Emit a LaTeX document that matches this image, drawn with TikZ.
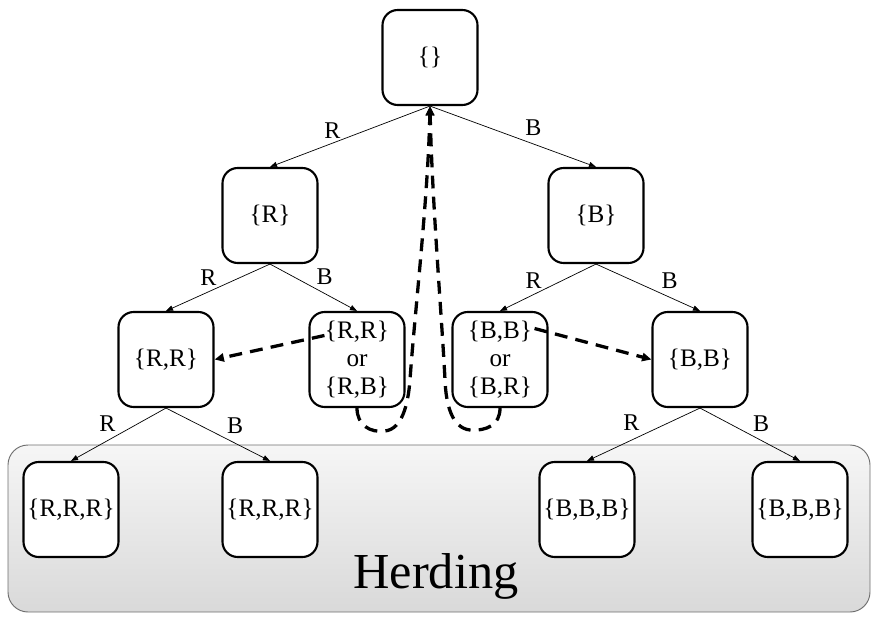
\documentclass[tikz,border=0pt]{standalone}
\usepackage{fontspec}
\setmainfont{Liberation Serif}
\usetikzlibrary{arrows.meta,positioning,calc}
\usepackage{xcolor}
\definecolor{Frame}{HTML}{6E6E6E}
\definecolor{PanelTop}{HTML}{F6F6F6}
\definecolor{PanelBot}{HTML}{D9D9D9}
\tikzset{
 setnode/.style={draw, line width=1.8pt, rounded corners=13pt, fill=white, minimum width=2.85cm, minimum height=2.85cm, align=center, inner sep=2pt, font=\fontsize{21.5}{24}\selectfont},
 edge/.style={-{Triangle[length=6pt,width=4.5pt]}, line width=0.6pt},
 jump/.style={-{Triangle[length=8pt,width=7pt]}, line width=2.8pt, dash pattern=on 11pt off 7pt},
 lbl/.style={font=\fontsize{20.5}{22}\selectfont, inner sep=1pt}
}
\begin{document}
\begin{tikzpicture}[x=0.03cm,y=-0.03cm]
\useasboundingbox (0,0) rectangle (881,624);
% herding panel
\draw[draw=Frame, line width=0.8pt, rounded corners=0.6cm, top color=PanelTop, bottom color=PanelBot] (8,445) rectangle (870,612);
\node[font=\fontsize{43}{50}\selectfont, anchor=base] (herd) at (436,588) {Herding};
% states
\node[setnode] (root) at (430,57.5) {\{\}};
\node[setnode] (r) at (270,215.5) {\{R\}};
\node[setnode] (b) at (596,215.5) {\{B\}};
\node[setnode] (rr) at (166,359.5) {\{R,R\}};
\node[setnode] (mid1) at (357,359.5) {\{R,R\}\\or\\\{R,B\}};
\node[setnode] (mid2) at (500,359.5) {\{B,B\}\\or\\\{B,R\}};
\node[setnode] (bb) at (700,359.5) {\{B,B\}};
\node[setnode] (rrr1) at (71,509.5) {\{R,R,R\}};
\node[setnode] (rrr2) at (270,509.5) {\{R,R,R\}};
\node[setnode] (bbb1) at (587,509.5) {\{B,B,B\}};
\node[setnode] (bbb2) at (800,509.5) {\{B,B,B\}};
% tree edges
\draw[edge] (root.south) -- node[lbl, pos=.55, above left] {R} (r.north);
\draw[edge] (root.south) -- node[lbl, pos=.55, above right=3pt] {B} (b.north);
\draw[edge] (r.south) -- node[lbl, pos=.5, above left] {R} (rr.north);
\draw[edge] (r.south) -- node[lbl, pos=.5, above right=2pt] {B} (mid1.north);
\draw[edge] (b.south) -- node[lbl, pos=.55, above left] {R} (mid2.north);
\draw[edge] (b.south) -- node[lbl, pos=.6, above right=2pt] {B} (bb.north);
\draw[edge] (rr.south) -- node[lbl, pos=.5, above left=2pt] {R} (rrr1.north);
\draw[edge] (rr.south) -- node[lbl, pos=.55, above right=3pt] {B} (rrr2.north);
\draw[edge] (bb.south) -- node[lbl, pos=.5, above left=3pt] {R} (bbb1.north);
\draw[edge] (bb.south) -- node[lbl, pos=.5, above right=2pt] {B} (bbb2.north);
% dashed moves
\draw[jump] ([shift={(16,-24)}]mid1.west) -- (rr.east);
\draw[jump] ([shift={(-14,-31)}]mid2.east) -- (bb.west);
\draw[jump] (mid1.south) .. controls (357,425) and (370,433) .. (385,431)
  .. controls (402,429) and (408,405) .. (410,380)
  .. controls (414,320) and (428,200) .. (root.south);
\draw[jump] (mid2.south) .. controls (500,425) and (487,431) .. (470,430)
  .. controls (452,428) and (446,405) .. (445,380)
  .. controls (442,320) and (432,200) .. (root.south);
\end{tikzpicture}
\end{document}
